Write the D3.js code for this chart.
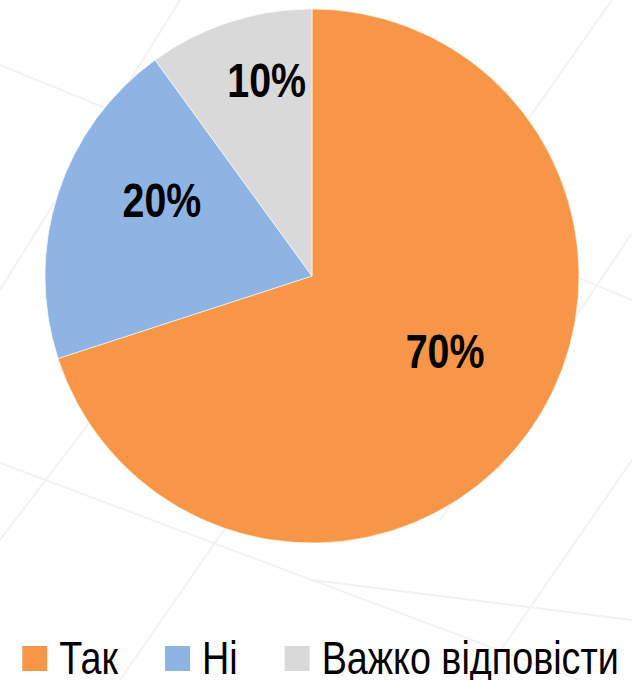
<!DOCTYPE html>
<html>
<head>
<meta charset="utf-8">
<script src="https://cdn.jsdelivr.net/npm/d3@7"></script>
<style>
  html, body { margin: 0; padding: 0; background: #ffffff; }
  svg { display: block; }
</style>
</head>
<body>
<svg id="chart" width="632" height="680"></svg>
<script>
// ---- data ----
const categories = ["Так", "Ні", "Важко відповісти"];
const values = [70, 20, 10];
const labels = ["70%", "20%", "10%"];
const colors = ["#F79646", "#8DB4E3", "#D9D9D9"];

// ---- layout ----
const W = 632, H = 680;
const cx = 312, cy = 276, R = 267;
const FONT = "'Liberation Sans', Arial, sans-serif";
const NARROW = 0.82; // horizontal condensation to mimic a narrow face

const svg = d3.select("#chart");

// faint decorative background lines
const bg = svg.append("g").attr("stroke", "#f2f2f2").attr("stroke-width", 2).attr("fill", "none");
const bgLines = [
  [[0, 65], [330, 200]],
  [[180, 0], [0, 290]],
  [[612, 0], [380, 330]],
  [[632, 233], [440, 520]],
  [[0, 463], [632, 700]],
  [[0, 540], [160, 330]],
  [[120, 680], [300, 420]],
  [[312, 580], [632, 620]],
  [[632, 460], [480, 680]],
  [[632, 300], [560, 270]]
];
bgLines.forEach(l => bg.append("line")
  .attr("x1", l[0][0]).attr("y1", l[0][1]).attr("x2", l[1][0]).attr("y2", l[1][1]));

const pie = d3.pie().sort(null).value(d => d)(values);
const arc = d3.arc().innerRadius(0).outerRadius(R);

const g = svg.append("g").attr("transform", `translate(${cx},${cy})`);
g.selectAll("path.slice").data(pie).join("path")
  .attr("class", "slice")
  .attr("d", arc)
  .attr("fill", (d, i) => colors[i])
  .attr("stroke", "#ffffff")
  .attr("stroke-width", 0.6);

// label placement ("best fit" style): radius fraction and angle shift (deg) per slice
const labelPlace = [{ r: 0.572, da: -6.6 }, { r: 0.631, da: 9.0 }, { r: 0.755, da: 5.0 }];
g.selectAll("text.lbl").data(pie).join("text")
  .attr("class", "lbl")
  .attr("transform", (d, i) => {
    const a = (d.startAngle + d.endAngle) / 2 + labelPlace[i].da * Math.PI / 180;
    const rr = R * labelPlace[i].r;
    return `translate(${rr * Math.sin(a)},${-rr * Math.cos(a)}) scale(${NARROW},1)`;
  })
  .attr("text-anchor", "middle")
  .attr("dy", "0.36em")
  .attr("font-family", FONT)
  .attr("font-weight", "bold")
  .attr("font-size", 48)
  .attr("fill", "#000000")
  .text((d, i) => labels[i]);

// legend
const leg = svg.append("g").attr("transform", "translate(0,646)");
const sq = 25, gapText = 12, gapItem = 47;
const items = leg.selectAll("g.item").data(categories).join("g").attr("class", "item");
items.append("rect").attr("width", sq).attr("height", sq).attr("fill", (d, i) => colors[i]);
items.append("text")
  .attr("transform", `translate(${sq + gapText},28) scale(${NARROW},1)`)
  .attr("font-family", FONT)
  .attr("font-size", 46)
  .attr("fill", "#000000")
  .text(d => d);
const widths = [];
items.each(function () {
  const tw = d3.select(this).select("text").node().getComputedTextLength() * NARROW;
  widths.push(sq + gapText + tw);
});
const total = d3.sum(widths) + gapItem * (widths.length - 1);
let x = 320.5 - total / 2;
items.each(function (d, i) {
  d3.select(this).attr("transform", `translate(${x},0)`);
  x += widths[i] + gapItem;
});
</script>
</body>
</html>
